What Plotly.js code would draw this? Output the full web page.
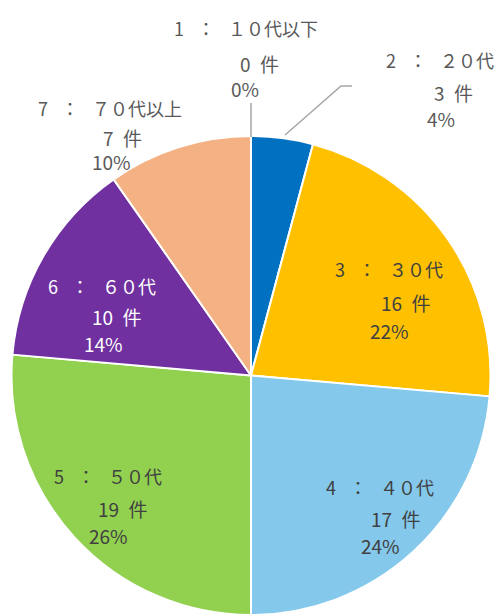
<!DOCTYPE html>
<html>
<head>
<meta charset="utf-8">
<script src="https://cdn.plot.ly/plotly-3.0.1.min.js"></script>
<style>html,body{margin:0;padding:0;background:#fff;}</style>
</head>
<body>
<div id="chart" style="width:501px;height:615px;"></div>
<script>
// ---- data ----
const catNums = ['1', '2', '3', '4', '5', '6', '7'];
const catNames = ['１０代以下', '２０代', '３０代', '４０代', '５０代', '６０代', '７０代以上'];
const counts = [0, 3, 16, 17, 19, 10, 7];
const unit = '件';

// ---- style ----
const colors = ['#A5A5A5', '#0070C0', '#FFC000', '#84C8EB', '#92D050', '#7030A0', '#F4B183'];
const textColors = ['#595959', '#595959', '#404040', '#404040', '#404040', '#FFFFFF', '#595959'];
// label line centres in pixels: [line1, line2, line3]
const labelPx = [
  [[245.5, 28], [259, 63], [245, 89]],
  [[440, 60], [453, 92], [441, 118]],
  [[389, 269], [406, 302], [389, 330]],
  [[380, 487], [396, 518], [380, 545]],
  [[108, 476], [123, 508], [108, 535]],
  [[102, 286], [117, 316], [103, 343]],
  [[110, 108], [122, 137], [111, 161]]
];

const W = 501, H = 615;
const M = {l: 11, r: 10, t: 136, b: 0};
const pw = W - M.l - M.r, ph = H - M.t - M.b;
const px2x = p => (p - M.l) / pw;
const py2y = p => (H - M.b - p) / ph;

const total = counts.reduce((a, b) => a + b, 0);
const labels = catNums.map((n, i) => n + ' \u2002：\u2002 ' + catNames[i]);

const font = "'Noto Sans CJK JP', 'Noto Sans', sans-serif";
const annotations = [];
counts.forEach((c, i) => {
  const pct = Math.round(c / total * 100) + '%';
  const lines = [labels[i], c + '\u2002' + unit, pct];
  lines.forEach((t, k) => {
    annotations.push({
      xref: 'paper', yref: 'paper',
      x: px2x(labelPx[i][k][0]), y: py2y(labelPx[i][k][1]),
      xanchor: 'center', yanchor: 'middle',
      text: t, showarrow: false, borderpad: 0,
      font: {family: font, size: k === 0 ? 18 : 19, color: textColors[i]}
    });
  });
});

const gray = '#A6A6A6';
const shapes = [
  {type: 'line', xref: 'paper', yref: 'paper',
   x0: px2x(251), y0: py2y(103), x1: px2x(251), y1: py2y(137),
   line: {color: gray, width: 1.5}},
  {type: 'path', xref: 'paper', yref: 'paper',
   path: 'M ' + px2x(285) + ' ' + py2y(135) + ' L ' + px2x(341) + ' ' + py2y(86) + ' L ' + px2x(352) + ' ' + py2y(86),
   line: {color: gray, width: 1.5}}
];

const trace = {
  type: 'pie',
  values: counts,
  labels: labels,
  sort: false,
  direction: 'clockwise',
  rotation: 0,
  textinfo: 'none',
  marker: {colors: colors, line: {color: '#FFFFFF', width: 2}},
  domain: {x: [0, 1], y: [0, 1]}
};

Plotly.newPlot('chart', [trace], {
  width: W, height: H,
  margin: M,
  showlegend: false,
  paper_bgcolor: '#FFFFFF',
  plot_bgcolor: '#FFFFFF',
  annotations: annotations,
  shapes: shapes
}, {displayModeBar: false, staticPlot: true});
</script>
</body>
</html>
